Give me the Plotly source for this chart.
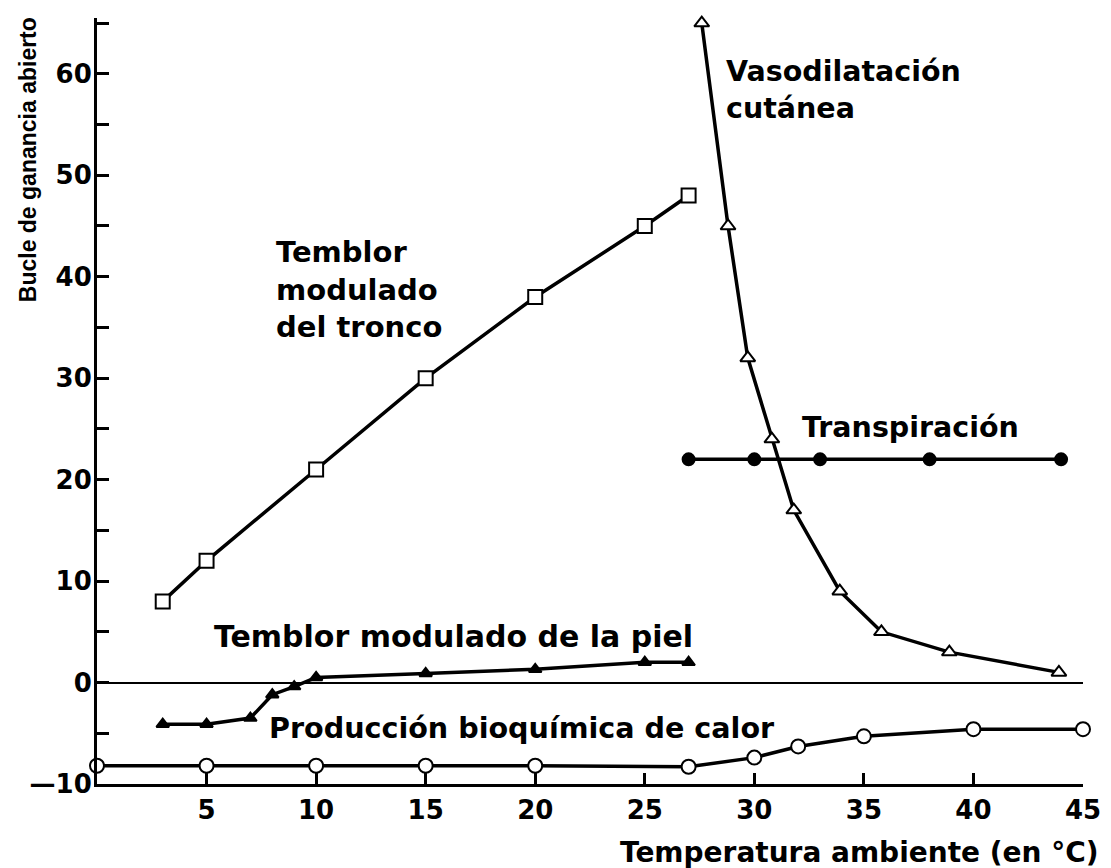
import plotly.graph_objects as go

# --- data ---
tronco_x = [3, 5, 10, 15, 20, 25, 27]
tronco_y = [8, 12, 21, 30, 38, 45, 48]

vaso_x = [27.6, 28.8, 29.7, 30.8, 31.8, 33.9, 35.8, 38.9, 43.9]
vaso_y = [65, 45, 32, 24, 17, 9, 5, 3, 1]

transp_x = [27, 30, 33, 38, 44]
transp_y = [22, 22, 22, 22, 22]

piel_x = [3, 5, 7, 8, 9, 10, 15, 20, 25, 27]
piel_y = [-4.1, -4.1, -3.5, -1.2, -0.4, 0.5, 0.9, 1.3, 2.0, 2.0]

bioq_x = [0, 5, 10, 15, 20, 27, 30, 32, 35, 40, 45]
bioq_y = [-8.2, -8.2, -8.2, -8.2, -8.2, -8.3, -7.4, -6.3, -5.3, -4.6, -4.6]

x_ticks = [5, 10, 15, 20, 25, 30, 35, 40, 45]
y_ticks = [-10, 0, 10, 20, 30, 40, 50, 60]
y_ticktext = ["\u201410", "0", "10", "20", "30", "40", "50", "60"]

FONT = "DejaVu Sans"
BLACK = "#000000"

fig = go.Figure()

def add(x, y, symbol, fill, size):
    fig.add_trace(go.Scatter(
        x=x, y=y, mode="lines+markers",
        line=dict(color=BLACK, width=3.5),
        marker=dict(symbol=symbol, size=size, color=fill,
                    line=dict(color=BLACK, width=2)),
        cliponaxis=False, showlegend=False, hoverinfo="x+y"))

add(tronco_x, tronco_y, "square", "white", 14)
add(vaso_x, vaso_y, "triangle-up", "white", 13)
add(transp_x, transp_y, "circle", BLACK, 12)
add(piel_x, piel_y, "triangle-up", BLACK, 11)
add(bioq_x, bioq_y, "circle", "white", 14)

def afont(size, family=FONT):
    return dict(family=family, size=size, color=BLACK, weight="bold")

annotations = [
    dict(x=8.1, y=38.7, text="Temblor<br>modulado<br>del tronco", font=afont(29)),
    dict(x=28.6, y=58.4, text="Vasodilatación<br>cutánea", font=afont(28.5)),
    dict(x=32.1, y=25.1, text="Transpiración", font=afont(28.5)),
    dict(x=5.26, y=4.5, text="Temblor modulado de la piel", font=afont(30)),
    dict(x=7.75, y=-4.5, text="Producción bioquímica de calor", font=afont(28.6)),
]
for a in annotations:
    fig.add_annotation(xref="x", yref="y", xanchor="left", yanchor="middle",
                       align="left", showarrow=False, **a)

fig.add_annotation(xref="paper", yref="paper", x=1.018, y=-0.0894,
                   xanchor="right", yanchor="middle", showarrow=False,
                   text="Temperatura ambiente (en °C)", font=afont(28))
fig.add_annotation(xref="paper", yref="paper", x=-0.0705, y=0.815,
                   xanchor="center", yanchor="middle", showarrow=False,
                   textangle=-90, text="Bucle de ganancia abierto",
                   font=afont(23, "Liberation Sans"))

tick_font = dict(family=FONT, size=26, color=BLACK, weight="bold")

# page body has an 8px default margin: figure is sized/offset to compensate
fig.update_layout(
    width=1103, height=860,
    margin=dict(l=89, r=21, t=10, b=83.5),
    paper_bgcolor="white", plot_bgcolor="white",
    font=dict(family=FONT, color=BLACK),
    xaxis=dict(range=[0, 45], showgrid=False, zeroline=False,
               showline=True, linecolor=BLACK, linewidth=3,
               tickmode="array", tickvals=x_ticks,
               ticks="inside", ticklen=11, tickwidth=2.5, tickcolor=BLACK,
               tickfont=tick_font, ticklabelstandoff=1),
    yaxis=dict(range=[-10, 65.5], showgrid=False,
               zeroline=True, zerolinecolor=BLACK, zerolinewidth=2,
               showline=True, linecolor=BLACK, linewidth=3,
               tickmode="array", tickvals=y_ticks, ticktext=y_ticktext,
               ticks="inside", ticklen=12, tickwidth=2.5, tickcolor=BLACK,
               minor=dict(dtick=5, tick0=0, ticks="inside", ticklen=12,
                          tickwidth=2.5, tickcolor=BLACK, showgrid=False),
               tickfont=tick_font, ticklabelstandoff=-3),
)

fig.write_html("out.html")
